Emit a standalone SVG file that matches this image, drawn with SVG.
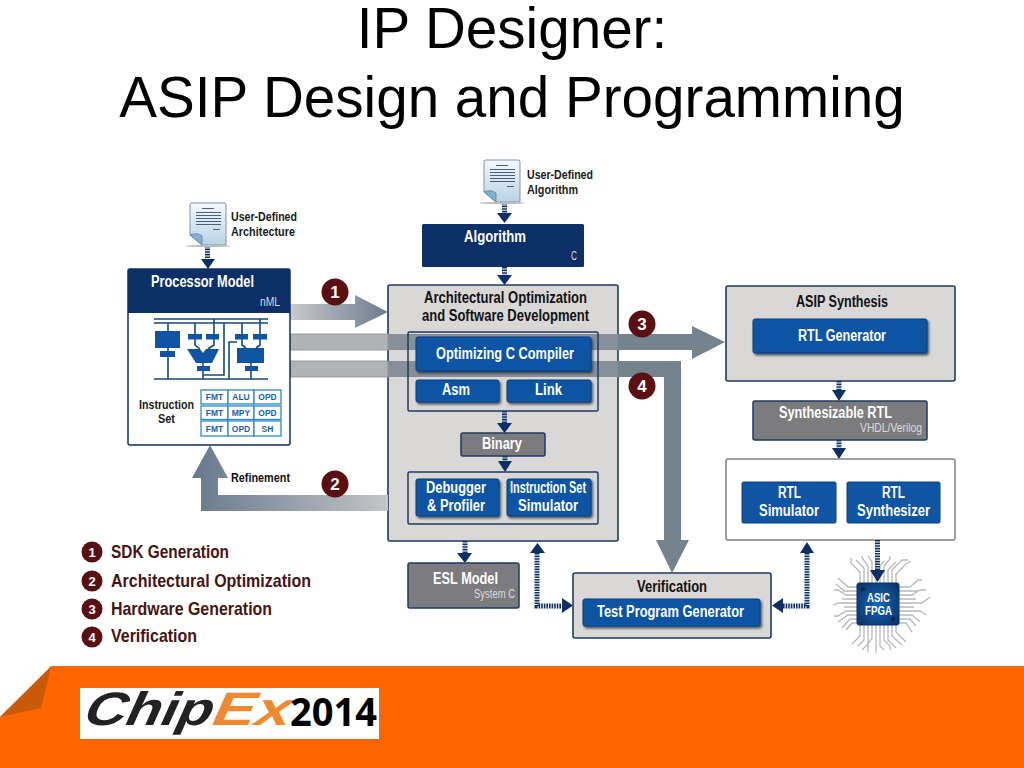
<svg xmlns="http://www.w3.org/2000/svg" xmlns:xlink="http://www.w3.org/1999/xlink" width="1024" height="768" viewBox="0 0 1024 768">
<style>
text{font-family:"Liberation Sans",Arial,sans-serif;font-weight:bold}
.title{font-weight:normal;font-size:56.6px;fill:#000;text-anchor:middle}
.w{fill:#fff;font-size:16px}
.k{fill:#111;font-size:16px}
.s{fill:#1a1a1a;font-size:13px}
.thin{font-weight:normal;fill:#dcdcdc;font-size:12px}
.leg{fill:#451414;font-size:19px}
.num{fill:#fff;text-anchor:middle}
.tb{fill:#1f5fa8;font-size:8.5px;text-anchor:middle}
.panel{fill:#d9d8d6;stroke:#1d3a60;stroke-width:1.6}
.grp{fill:none;stroke:#1d3a60;stroke-width:1.5}
.btn{fill:#0f55a4;stroke:#0b3f7d;stroke-width:1;filter:url(#sh)}
.flat{fill:#0f55a4;stroke:#0b3f7d;stroke-width:1}
.gray{fill:#7c7c7e;stroke:#1d3a60;stroke-width:1.5}
.dot{fill:none;stroke:#0b2f66;stroke-width:5;stroke-dasharray:1.6 1}
.head{fill:#0b2f66}
.badge{fill:#5a1012}
.sch{fill:none;stroke:#14487f;stroke-width:1.6}
.schb{fill:#0f55a4}
.cell{fill:#fff;stroke:#2a8ac8;stroke-width:1.3}
.doc{fill:url(#paper);stroke:#7f93aa;stroke-width:1}
.dl{stroke:#4a5f7e;stroke-width:1;fill:none}
.tr{fill:none;stroke:#b8b8b8;stroke-width:1.3}
</style>
<defs>
<linearGradient id="paper" x1="0" y1="0" x2="0" y2="1"><stop offset="0" stop-color="#f4f8fb"/><stop offset="1" stop-color="#b9d2e6"/></linearGradient>
<linearGradient id="a1" gradientUnits="userSpaceOnUse" x1="290" y1="0" x2="388" y2="0"><stop offset="0" stop-color="#c9cacb"/><stop offset="1" stop-color="#6c7c90"/></linearGradient>
<linearGradient id="a2" gradientUnits="userSpaceOnUse" x1="388" y1="0" x2="201" y2="0"><stop offset="0" stop-color="#c4c5c7"/><stop offset="1" stop-color="#6c7c90"/></linearGradient>
<radialGradient id="chip" cx=".5" cy=".5" r=".7"><stop offset="0" stop-color="#1467bb"/><stop offset="1" stop-color="#0a2f62"/></radialGradient>
<filter id="sh" x="-10%" y="-20%" width="120%" height="150%"><feDropShadow dx="1.5" dy="2" stdDeviation="1.2" flood-color="#1a2a3a" flood-opacity=".75"/></filter>
<g id="d"><path class="doc" d="M0 2q0-2 2-2H34q2 0 2 2V42H12L0 32Z"/><path d="M0 32q7-3 12 1v9Z" fill="#7fb0d6" stroke="#5f86a8" stroke-width=".8"/><path class="dl" d="M12 5.500H24M6 9.500H31M6 12.500H31M6 15.500H31M6 18.500H31M6 21.500H31M23 26.500H30"/><ellipse cx="18" cy="43" rx="23" ry="1.2" fill="#b9bcc0"/></g>
</defs>
<rect width="1024" height="768" fill="#fff"/>

<g id="title">
<text class="title" x="512" y="48">IP Designer:</text>
<text class="title" x="512" y="117">ASIP Design and Programming</text>
</g>

<g id="footer">
<rect y="666" width="1024" height="102" fill="#ff6600"/>
<path d="M0 666H51L0 717Z" fill="#fff"/>
<path d="M0 717L51 667L41 708Z" fill="#c95a08"/>
</g>
<g id="logo">
<rect x="80" y="688" width="299" height="51" fill="#fff"/>
<text transform="translate(80 725) skewX(-24)" font-size="47" fill="#222" textLength="128" lengthAdjust="spacingAndGlyphs">Chip</text>
<text transform="translate(208 725) skewX(-24)" font-size="47" fill="#f08a30" textLength="78" lengthAdjust="spacingAndGlyphs">Ex</text>
<text x="290" y="726" font-size="40" fill="#000" textLength="87" lengthAdjust="spacingAndGlyphs" style="font-family:'Open Sans','Liberation Sans',sans-serif">2014</text>
</g>

<g id="node-architecture-panel"><rect class="panel" x="388" y="285" width="230" height="256" rx="2"/></g>
<g id="node-asip-panel"><rect class="panel" x="726" y="286" width="229" height="95" rx="2"/></g>

<g id="connectors">
<path d="M290 304H355V295L388 312L355 328V320H290Z" fill="url(#a1)"/>
<g id="band-3">
<rect x="290" y="334" width="98" height="16" fill="#b2b3b5" stroke="#8a8e94" stroke-width=".8"/>
<path d="M388 334H692V326L725 342L692 359V350H388Z" fill="#75838f"/>
<rect x="388" y="334" width="230" height="16" fill="#a8a8a8" fill-opacity=".35"/>
</g>
<g id="band-4">
<rect x="290" y="361" width="98" height="16" fill="#b2b3b5" stroke="#8a8e94" stroke-width=".8"/>
<path d="M388 361H681V540H689L672 573L656 540H664V377H388Z" fill="#75838f"/>
<rect x="388" y="361" width="230" height="16" fill="#a8a8a8" fill-opacity=".35"/>
</g>
<path d="M388 495H218V478H228L210 445L192 478H201V511H388Z" fill="url(#a2)"/>
<path class="dot" d="M207.500 246V259"/><path class="head" d="M201 259H215L208 269Z"/>
<path class="dot" d="M504.500 203V213"/><path class="head" d="M497 213H512L504.500 223Z"/>
<path class="dot" d="M504.500 267V275"/><path class="head" d="M497 275H512L504.500 285Z"/>
<path class="dot" d="M504.500 411V423"/><path class="head" d="M497 423H512L504.500 433Z"/>
<path class="dot" d="M505 456V462"/><path class="head" d="M498 461H512L505 472Z"/>
<path class="dot" d="M465 541V553"/><path class="head" d="M457 553H472L465 563Z"/>
<path class="dot" d="M537 553V606H562"/><path class="head" d="M530 553H545L537.500 543Z"/><path class="head" d="M562 598V613L573 605.500Z"/>
<path class="dot" d="M783 606H807V553"/><path class="head" d="M783 598V613L772 605.500Z"/><path class="head" d="M800 553H814L807 542Z"/>
<path class="dot" d="M839 381V391"/><path class="head" d="M832 390H846L839 401Z"/>
<path class="dot" d="M839 440V449"/><path class="head" d="M832 448H846L839 459Z"/>
</g>

<g id="node-doc-arch"><use xlink:href="#d" href="#d" x="190" y="203"/>
<text class="s" x="231" y="221" textLength="66" lengthAdjust="spacingAndGlyphs">User-Defined</text>
<text class="s" x="231" y="236" textLength="64" lengthAdjust="spacingAndGlyphs">Architecture</text></g>
<g id="node-doc-algo"><use xlink:href="#d" href="#d" x="484" y="160"/>
<text class="s" x="527" y="179" textLength="66" lengthAdjust="spacingAndGlyphs">User-Defined</text>
<text class="s" x="527" y="194" textLength="51" lengthAdjust="spacingAndGlyphs">Algorithm</text></g>

<g id="node-processor-model">
<rect x="128" y="269" width="162" height="176" rx="2" fill="#fff" stroke="#0b2f66" stroke-width="1.5"/>
<path d="M128 271q0-2 2-2H288q2 0 2 2V313H128Z" fill="#0b2f66"/>
<text class="w" x="151" y="287" textLength="103" lengthAdjust="spacingAndGlyphs">Processor Model</text>
<text class="thin" x="260" y="306" textLength="20" lengthAdjust="spacingAndGlyphs">nML</text>
<g id="schematic">
<path class="sch" d="M154 319H268M154 323H268M154 379H268M168 323V379M195 323V345L200 349M214 319V345L208 349M242 323V345L246 348M260 319V345L256 348M203 363V379M203 375H224V323M229 379V342H237M251 363V379"/>
<rect class="schb" x="155" y="331" width="25" height="17"/><rect class="schb" x="160" y="351" width="15" height="6"/>
<rect class="schb" x="188" y="334" width="14" height="5.500"/><rect class="schb" x="206" y="334" width="13" height="5.500"/>
<path class="schb" d="M187 349H200L203 353L206 349H219L212 363H196Z"/><rect class="schb" x="197" y="366" width="13" height="5"/>
<rect class="schb" x="235" y="334" width="13" height="5.500"/><rect class="schb" x="253" y="334" width="14" height="5.500"/>
<rect class="schb" x="237" y="348" width="27" height="15"/><rect class="schb" x="245" y="366" width="13" height="5"/>
</g>
<text class="s" x="139" y="409" textLength="55" lengthAdjust="spacingAndGlyphs">Instruction</text>
<text class="s" x="158" y="423" textLength="17" lengthAdjust="spacingAndGlyphs">Set</text>
<g id="instruction-table">
<rect class="cell" x="201" y="390" width="27" height="14"/><rect class="cell" x="228" y="390" width="26" height="14"/><rect class="cell" x="254" y="390" width="27" height="14"/>
<rect class="cell" x="201" y="406" width="27" height="13.500"/><rect class="cell" x="228" y="406" width="26" height="13.500"/><rect class="cell" x="254" y="406" width="27" height="13.500"/>
<rect class="cell" x="201" y="421" width="27" height="15"/><rect class="cell" x="228" y="421" width="26" height="15"/><rect class="cell" x="254" y="421" width="27" height="15"/>
<text class="tb" x="214.500" y="400">FMT</text><text class="tb" x="241" y="400">ALU</text><text class="tb" x="267.500" y="400">OPD</text>
<text class="tb" x="214.500" y="416">FMT</text><text class="tb" x="241" y="416">MPY</text><text class="tb" x="267.500" y="416">OPD</text>
<text class="tb" x="214.500" y="431.500">FMT</text><text class="tb" x="241" y="431.500">OPD</text><text class="tb" x="267.500" y="431.500">SH</text>
</g>
</g>

<g id="node-algorithm">
<rect x="422" y="224" width="162" height="43" rx="1.500" fill="#0b2f66"/>
<text class="w" x="464" y="242" textLength="62" lengthAdjust="spacingAndGlyphs">Algorithm</text>
<text class="thin" x="571" y="260" textLength="6" lengthAdjust="spacingAndGlyphs">C</text>
</g>

<g id="node-architecture">
<text class="k" x="424" y="303" textLength="163" lengthAdjust="spacingAndGlyphs">Architectural Optimization</text>
<text class="k" x="422" y="321" textLength="167" lengthAdjust="spacingAndGlyphs">and Software Development</text>
<rect class="grp" x="408" y="332" width="190" height="79" rx="1.500"/>
<rect class="grp" x="408" y="472" width="190" height="52" rx="1.500"/>
</g>
<g id="node-compiler"><rect class="btn" x="416" y="337" width="175" height="34" rx="2"/>
<text class="w" x="436" y="359" textLength="138" lengthAdjust="spacingAndGlyphs">Optimizing C Compiler</text></g>
<g id="node-asm"><rect class="btn" x="416" y="380" width="83" height="22" rx="2"/>
<text class="w" x="442" y="395" textLength="28" lengthAdjust="spacingAndGlyphs">Asm</text></g>
<g id="node-link"><rect class="btn" x="507" y="380" width="84" height="22" rx="2"/>
<text class="w" x="535" y="395" textLength="27" lengthAdjust="spacingAndGlyphs">Link</text></g>
<g id="node-binary"><rect class="gray" x="461" y="433" width="84" height="23" rx="2"/>
<text class="w" x="482" y="449" textLength="40" lengthAdjust="spacingAndGlyphs">Binary</text></g>
<g id="node-debugger"><rect class="btn" x="416" y="479" width="83" height="37" rx="2"/>
<text class="w" x="426" y="493" textLength="60" lengthAdjust="spacingAndGlyphs">Debugger</text>
<text class="w" x="427" y="511" textLength="58" lengthAdjust="spacingAndGlyphs">&amp; Profiler</text></g>
<g id="node-iss"><rect class="btn" x="507" y="479" width="84" height="37" rx="2"/>
<text class="w" x="510" y="493" textLength="76" lengthAdjust="spacingAndGlyphs">Instruction Set</text>
<text class="w" x="518" y="511" textLength="60" lengthAdjust="spacingAndGlyphs">Simulator</text></g>

<g id="node-esl"><rect class="gray" x="408" y="563" width="111" height="45" rx="2"/>
<text class="w" x="433" y="584" textLength="65" lengthAdjust="spacingAndGlyphs">ESL Model</text>
<text class="thin" x="474" y="598" textLength="41" lengthAdjust="spacingAndGlyphs">System C</text></g>

<g id="node-verification"><rect class="panel" x="573" y="573" width="198" height="65" rx="2"/>
<text class="k" x="637" y="592" textLength="70" lengthAdjust="spacingAndGlyphs">Verification</text>
<rect class="btn" x="583" y="599" width="177" height="27" rx="2"/>
<text class="w" x="597" y="617" textLength="147" lengthAdjust="spacingAndGlyphs">Test Program Generator</text></g>

<g id="node-asip">
<text class="k" x="796" y="307" textLength="92" lengthAdjust="spacingAndGlyphs">ASIP Synthesis</text>
<rect class="btn" x="753" y="319" width="174" height="34" rx="2"/>
<text class="w" x="798" y="341" textLength="88" lengthAdjust="spacingAndGlyphs">RTL Generator</text></g>
<g id="node-synth-rtl"><rect class="gray" x="753" y="401" width="174" height="39" rx="2"/>
<text class="w" x="779" y="418" textLength="113" lengthAdjust="spacingAndGlyphs">Synthesizable RTL</text>
<text class="thin" x="860" y="432" textLength="62" lengthAdjust="spacingAndGlyphs">VHDL/Verilog</text></g>
<g id="node-rtl-tools"><rect x="726" y="459" width="229" height="81" rx="2" fill="#fff" stroke="#808080" stroke-width="1.5"/>
<rect class="flat" x="742" y="482" width="94" height="41" rx="1.500"/>
<text class="w" x="778" y="498" textLength="23" lengthAdjust="spacingAndGlyphs">RTL</text>
<text class="w" x="759" y="516" textLength="60" lengthAdjust="spacingAndGlyphs">Simulator</text>
<rect class="flat" x="847" y="482" width="93" height="41" rx="1.500"/>
<text class="w" x="882" y="498" textLength="23" lengthAdjust="spacingAndGlyphs">RTL</text>
<text class="w" x="857" y="516" textLength="73" lengthAdjust="spacingAndGlyphs">Synthesizer</text></g>

<g id="node-chip">
<path class="tr" d="M860 583V572L851 563V558M864 583V568L856 560M868 583V566L862 558V556M872 583V562L868 556M876 583V560M880 583V566L884 561M884 583V566L890 559V556M888 583V570L896 562M892 583V570L902 560H908M896 583V574L906 564L911 561"/>
<path class="tr" d="M857 587H848L838 578M857 591H844L836 584M857 595H846L838 590H834M857 599H842M857 603H838L833 605M857 607H844M857 611H846L838 616H834M857 615H848L838 622M857 619H850L842 628M857 623H852L846 630"/>
<path class="tr" d="M899 587H910L918 580H922M899 591H918M899 595H912L920 590H926M899 599H916M899 603H922L930 597M899 607H914M899 611H920L926 615M899 615H912L920 622M899 619H910L916 626M899 623H906L912 632"/>
<path class="tr" d="M860 625V636L852 644M864 625V640L858 646M868 625V644L862 650M872 625V638L868 644V652M876 625V653M880 625V646L884 650M884 625V640L890 646V650M888 625V640L896 648M892 625V636L902 645M896 625V632L906 642"/>
<rect x="857" y="583" width="42" height="42" rx="2" fill="url(#chip)" stroke="#0a2f62"/>
<circle cx="863" cy="589" r="2" fill="#0a1f3f"/><circle cx="893" cy="619" r="2" fill="#0a1f3f"/>
<text class="w" x="867" y="602" style="font-size:13px" textLength="23" lengthAdjust="spacingAndGlyphs">ASIC</text>
<text class="w" x="865" y="615" style="font-size:13px" textLength="27" lengthAdjust="spacingAndGlyphs">FPGA</text>
</g>
<g id="connector-chip"><path class="dot" d="M877.500 540V571"/><path class="head" d="M870 570H885L877.500 582Z"/></g>

<g id="badges">
<circle class="badge" cx="335" cy="292" r="13.500"/><text class="num" x="335" y="298" font-size="17">1</text>
<circle class="badge" cx="335" cy="484" r="13.500"/><text class="num" x="335" y="490" font-size="17">2</text>
<circle class="badge" cx="642" cy="324" r="13.500"/><text class="num" x="642" y="330" font-size="17">3</text>
<circle class="badge" cx="642" cy="386" r="13.500"/><text class="num" x="642" y="392" font-size="17">4</text>
<text class="k" x="231" y="482" style="font-size:13px" textLength="59" lengthAdjust="spacingAndGlyphs">Refinement</text>
</g>

<g id="legend">
<circle class="badge" cx="92" cy="552" r="10.500"/><text class="num" x="92" y="557" font-size="13">1</text>
<text class="leg" x="111" y="558" textLength="118" lengthAdjust="spacingAndGlyphs">SDK Generation</text>
<circle class="badge" cx="92" cy="581" r="10.500"/><text class="num" x="92" y="586" font-size="13">2</text>
<text class="leg" x="111" y="587" textLength="200" lengthAdjust="spacingAndGlyphs">Architectural Optimization</text>
<circle class="badge" cx="92" cy="609" r="10.500"/><text class="num" x="92" y="614" font-size="13">3</text>
<text class="leg" x="111" y="615" textLength="161" lengthAdjust="spacingAndGlyphs">Hardware Generation</text>
<circle class="badge" cx="92" cy="637" r="10.500"/><text class="num" x="92" y="642" font-size="13">4</text>
<text class="leg" x="111" y="642" textLength="86" lengthAdjust="spacingAndGlyphs">Verification</text>
</g>
</svg>
